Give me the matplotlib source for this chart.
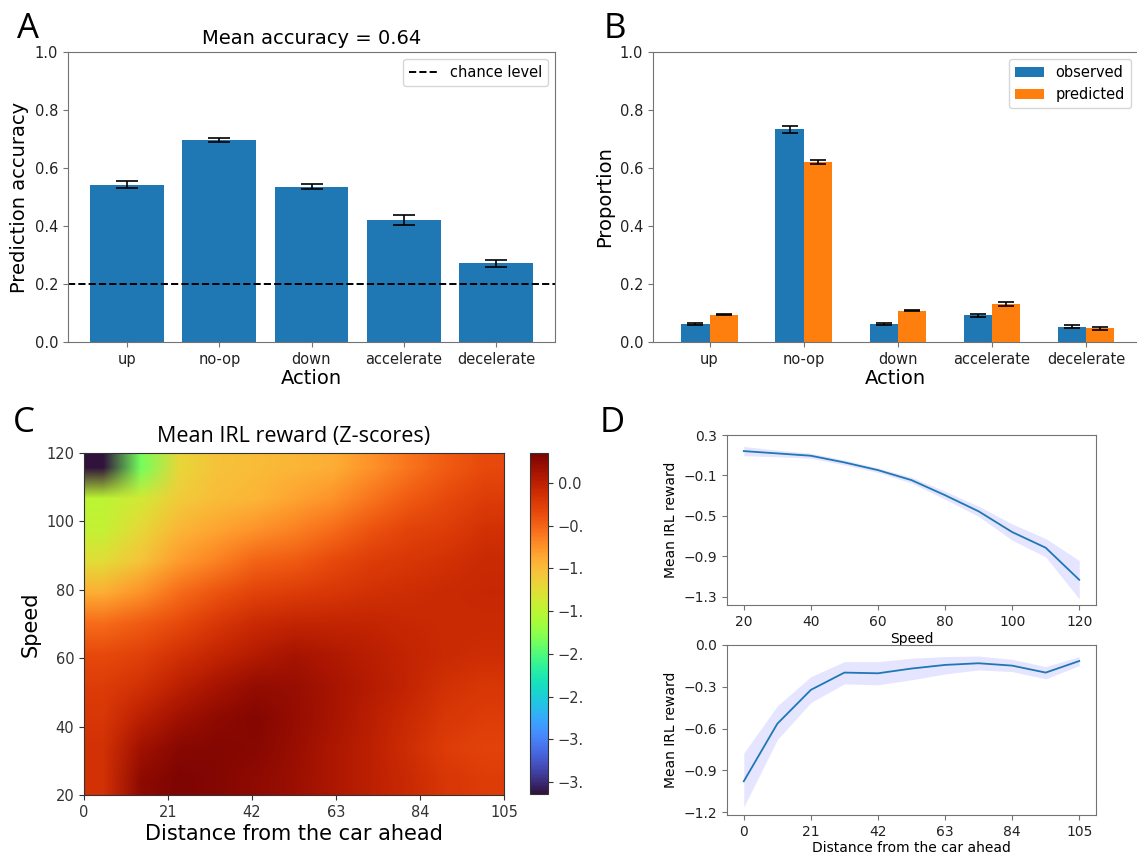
import numpy as np
import matplotlib.pyplot as plt
from matplotlib.patches import Rectangle

actions = ["up", "no-op", "down", "accelerate", "decelerate"]

# panel A
accuracy = [0.543, 0.698, 0.536, 0.421, 0.271]
accuracy_err = [0.012, 0.007, 0.010, 0.018, 0.011]
mean_accuracy = 0.64
chance = 0.2

# panel B
observed = [0.061, 0.733, 0.062, 0.092, 0.052]
observed_err = [0.003, 0.012, 0.003, 0.006, 0.005]
predicted = [0.094, 0.621, 0.108, 0.130, 0.047]
predicted_err = [0.001, 0.008, 0.002, 0.007, 0.005]

# panel C, rows from speed 120 (top) down to 20, columns distance 0..105
speed_grid = [120, 110, 100, 90, 80, 70, 60, 50, 40, 30, 20]
dist_grid = [0, 10.5, 21, 31.5, 42, 52.5, 63, 73.5, 84, 94.5, 105]
reward = [
    [-3.64, -1.85, -1.20, -1.05, -1.00, -0.95, -0.90, -0.75, -0.60, -0.45, -0.35],
    [-1.50, -1.35, -1.10, -1.00, -0.95, -0.85, -0.75, -0.60, -0.45, -0.35, -0.25],
    [-1.45, -1.20, -0.95, -0.85, -0.75, -0.65, -0.55, -0.40, -0.30, -0.25, -0.15],
    [-1.25, -1.05, -0.80, -0.65, -0.50, -0.45, -0.35, -0.25, -0.20, -0.15, -0.10],
    [-0.90, -0.75, -0.55, -0.40, -0.30, -0.25, -0.20, -0.15, -0.12, -0.10, -0.08],
    [-0.55, -0.45, -0.35, -0.20, -0.10, -0.05, -0.05, -0.05, -0.08, -0.10, -0.10],
    [-0.35, -0.28, -0.15, -0.05, 0.05, 0.12, 0.08, 0.02, -0.05, -0.10, -0.12],
    [-0.25, -0.15, 0.00, 0.12, 0.22, 0.20, 0.12, 0.05, -0.05, -0.15, -0.20],
    [-0.20, 0.00, 0.15, 0.25, 0.30, 0.22, 0.12, 0.02, -0.10, -0.20, -0.25],
    [-0.15, 0.15, 0.28, 0.30, 0.28, 0.20, 0.10, 0.00, -0.12, -0.25, -0.30],
    [-0.15, 0.25, 0.32, 0.30, 0.25, 0.18, 0.10, 0.00, -0.10, -0.20, -0.25],
]
vmin, vmax = -3.64, 0.35

# panel D
speeds = [20, 30, 40, 50, 60, 70, 80, 90, 100, 110, 120]
speed_mean = [0.141, 0.118, 0.095, 0.029, -0.047, -0.146, -0.295, -0.454, -0.659, -0.814, -1.131]
speed_lo = [0.095, 0.085, 0.070, 0.005, -0.070, -0.175, -0.335, -0.505, -0.740, -0.905, -1.320]
speed_hi = [0.187, 0.150, 0.120, 0.053, -0.025, -0.117, -0.255, -0.403, -0.578, -0.723, -0.940]

dists = [0, 10.5, 21, 31.5, 42, 52.5, 63, 73.5, 84, 94.5, 105]
dist_mean = [-0.978, -0.565, -0.322, -0.198, -0.203, -0.169, -0.143, -0.131, -0.148, -0.198, -0.115]
dist_lo = [-1.162, -0.680, -0.413, -0.279, -0.286, -0.250, -0.208, -0.179, -0.191, -0.243, -0.148]
dist_hi = [-0.775, -0.437, -0.227, -0.119, -0.119, -0.095, -0.083, -0.079, -0.103, -0.155, -0.083]

W, H = 1137, 856
plt.rcParams["axes.edgecolor"] = "0.45"
plt.rcParams["xtick.color"] = "0.45"
plt.rcParams["ytick.color"] = "0.45"
plt.rcParams["xtick.labelcolor"] = "#222222"
plt.rcParams["ytick.labelcolor"] = "#222222"

fig = plt.figure(figsize=(W / 100, H / 100), dpi=100)


def box(l, r, t, b):
    return [l / W, 1 - b / H, (r - l) / W, (b - t) / H]


x = np.arange(len(actions))

# A
axA = fig.add_axes(box(68, 555, 52, 342))
axA.bar(x, accuracy, width=0.8, color="#1f77b4")
axA.errorbar(x, accuracy, yerr=accuracy_err, fmt="none", ecolor="black",
             capsize=8, elinewidth=1.2, capthick=1.2)
axA.axhline(chance, color="black", ls="--", lw=1.4, label="chance level")
axA.set_ylim(0, 1)
axA.set_xticks(x, actions)
axA.tick_params(labelsize=10.5)
axA.set_xlabel("Action", fontsize=14, labelpad=2)
axA.set_ylabel("Prediction accuracy", fontsize=14)
axA.set_title(f"Mean accuracy = {mean_accuracy}", fontsize=14, pad=6)
axA.legend(loc="upper right", fontsize=10.5)

# B
axB = fig.add_axes(box(653, 1138, 52, 342))
bw = 0.3
axB.bar(x - bw / 2, observed, width=bw, color="#1f77b4", label="observed")
axB.bar(x + bw / 2, predicted, width=bw, color="#ff7f0e", label="predicted")
axB.errorbar(x - bw / 2, observed, yerr=observed_err, fmt="none", ecolor="black",
             capsize=6, elinewidth=1.2, capthick=1.2)
axB.errorbar(x + bw / 2, predicted, yerr=predicted_err, fmt="none", ecolor="black",
             capsize=6, elinewidth=1.2, capthick=1.2)
axB.set_ylim(0, 1)
axB.set_xlim(-0.6, 4.55)
axB.set_xticks(x, actions)
axB.tick_params(labelsize=10.5)
axB.set_xlabel("Action", fontsize=14, labelpad=2)
axB.set_ylabel("Proportion", fontsize=14)
axB.legend(loc="upper right", fontsize=10.5)

# C
axC = fig.add_axes(box(84, 504, 453, 795))
im = axC.imshow(np.array(reward), cmap="turbo", vmin=vmin, vmax=vmax,
                origin="upper", extent=[dist_grid[0], dist_grid[-1], speed_grid[-1], speed_grid[0]],
                aspect="auto", interpolation="bilinear", interpolation_stage="rgba")
for s in axC.spines.values():
    s.set_edgecolor("#333333")
axC.tick_params(colors="#333333", labelsize=10.5)
axC.set_xticks([0, 21, 42, 63, 84, 105])
axC.set_yticks([20, 40, 60, 80, 100, 120])
axC.set_xlabel("Distance from the car ahead", fontsize=15, labelpad=3)
axC.set_ylabel("Speed", fontsize=15)
axC.set_title("Mean IRL reward (Z-scores)", fontsize=15.5, family="Open Sans", pad=8)
cax = fig.add_axes(box(530, 548, 453, 794))
cb = fig.colorbar(im, cax=cax)
cb.set_ticks([0.0, -0.5, -1.0, -1.5, -2.0, -2.5, -3.0, -3.5])
cb.ax.tick_params(labelsize=10.5, colors="#333333")
cb.outline.set_edgecolor("#333333")

# white mask cutting the colorbar labels as in the reference
fig.add_artist(Rectangle((583 / W, 0), 60 / W, 420 / H, transform=fig.transFigure,
                         facecolor="white", edgecolor="none", zorder=1))

# D
axD1 = fig.add_axes(box(727, 1096, 435, 605), zorder=5)
axD1.fill_between(speeds, speed_lo, speed_hi, color="blue", alpha=0.1, lw=0)
axD1.plot(speeds, speed_mean, color="#1f77b4", lw=1.3)
axD1.set_ylim(-1.38, 0.3)
axD1.set_yticks([0.3, -0.1, -0.5, -0.9, -1.3])
axD1.set_xticks([20, 40, 60, 80, 100, 120])
axD1.tick_params(labelsize=10)
axD1.set_xlabel("Speed", fontsize=10, labelpad=2)
axD1.set_ylabel("Mean IRL reward", fontsize=10)

axD2 = fig.add_axes(box(727, 1096, 645, 815), zorder=5)
axD2.fill_between(dists, dist_lo, dist_hi, color="blue", alpha=0.1, lw=0)
axD2.plot(dists, dist_mean, color="#1f77b4", lw=1.3)
axD2.set_ylim(-1.22, 0.0)
axD2.set_yticks([0.0, -0.3, -0.6, -0.9, -1.2])
axD2.set_xticks([0, 21, 42, 63, 84, 105])
axD2.tick_params(labelsize=10)
axD2.set_xlabel("Distance from the car ahead", fontsize=10, labelpad=2)
axD2.set_ylabel("Mean IRL reward", fontsize=10)

# panel letters
for letter, px, py in [("A", 17, 38), ("B", 604, 38), ("C", 13, 432), ("D", 600, 432)]:
    fig.text(px / W, 1 - py / H, letter, fontsize=25, family="Open Sans",
             ha="left", va="baseline", zorder=10)

fig.savefig("out.png", dpi=100)
